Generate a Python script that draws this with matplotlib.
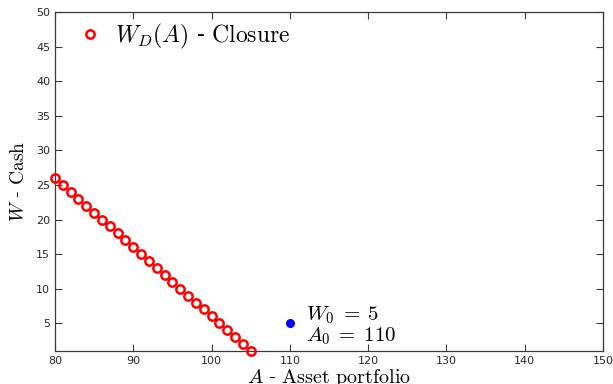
import numpy as np
import matplotlib.pyplot as plt

plt.rcParams['mathtext.fontset'] = 'cm'
plt.rcParams['font.family'] = 'DejaVu Serif'

# closure boundary W_D(A)
asset = np.arange(80, 106)
cash = [26, 25, 24, 23, 22, 21, 20, 19, 18, 17, 16, 15, 14, 13, 12,
        11, 10, 9, 8, 7, 6, 5, 4, 3, 2, 1]

# starting point
A0 = 110
W0 = 5

xticks = [80, 90, 100, 110, 120, 130, 140, 150]
yticks = [5, 10, 15, 20, 25, 30, 35, 40, 45, 50]

fig = plt.figure(figsize=(6.13, 3.84), dpi=100)
ax = fig.add_axes([55 / 613, 1 - 351 / 384, 548 / 613, 339 / 384])

ax.plot(asset, cash, 'o', mfc='none', mec='red', mew=1.8, ms=6,
        label=r'$W_D(A)$ - $\mathrm{Closure}$', clip_on=False, zorder=3)
ax.plot([A0], [W0], 'o', color='blue', ms=5.5, zorder=3)
ax.text(A0 + 2, W0 - 0.4, r'$W_0\;=\;5$' + '\n' + r'$A_0\;=\;110$',
        fontsize=15, va='center', ha='left', linespacing=0.95)

ax.set_xlim(80, 150)
ax.set_ylim(1, 50)
ax.set_xticks(xticks)
ax.set_yticks(yticks)

edge = '#3a3a3a'
for s in ax.spines.values():
    s.set_color(edge)
    s.set_linewidth(0.9)
ax.tick_params(direction='in', length=5, width=0.8, color=edge,
               top=True, right=True, labelsize=8, labelcolor='#262626')
for lab in ax.get_xticklabels() + ax.get_yticklabels():
    lab.set_family('DejaVu Sans')

ax.set_xlabel(r'$A$ - $\mathrm{Asset\ portfolio}$', fontsize=14.5, labelpad=1)
ax.set_ylabel(r'$W$ - $\mathrm{Cash}$', fontsize=14, labelpad=6)

ax.legend(loc='upper left', frameon=False, fontsize=17,
          handlelength=1.0, handletextpad=0.55, borderaxespad=0.0,
          bbox_to_anchor=(0.025, 1.0))

fig.savefig('out.png', dpi=100)
